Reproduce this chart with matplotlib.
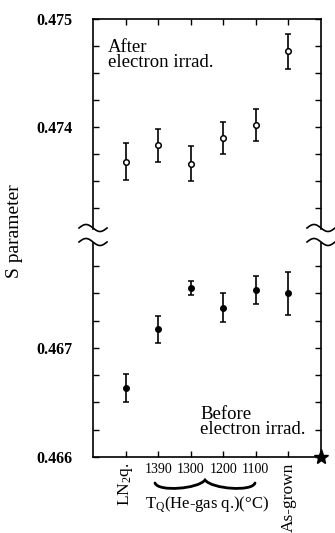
import numpy as np
import matplotlib
matplotlib.use("Agg")
import matplotlib.pyplot as plt
from matplotlib.lines import Line2D
from matplotlib.path import Path
from matplotlib.patches import PathPatch
from matplotlib.ticker import MultipleLocator

plt.rcParams["font.family"] = "serif"
plt.rcParams["font.serif"] = ["Liberation Serif", "DejaVu Serif"]
plt.rcParams["mathtext.fontset"] = "custom"
plt.rcParams["mathtext.rm"] = "Liberation Serif"
plt.rcParams["mathtext.it"] = "Liberation Serif:italic"

# data
positions = [1, 2, 3, 4, 5, 6]
tick_labels = ["LN$_2$q.", "1390", "1300", "1200", "1100", "As-grown"]
s_after = [0.47368, 0.47383, 0.47366, 0.47390, 0.47402, 0.47470]
err_after = [0.00017, 0.00015, 0.00016, 0.00015, 0.00015, 0.00016]
s_before = [0.46663, 0.46717, 0.46755, 0.46737, 0.46753, 0.46750]
err_before = [0.00013, 0.000125, 0.00006, 0.00013, 0.00013, 0.00020]

W, H = 335, 533
fig = plt.figure(figsize=(W / 100, H / 100), dpi=100)


def fxy(px, py):
    return px / W, 1 - py / H


left, right = 93, 321
ax_up = fig.add_axes([left / W, 1 - 229 / H, (right - left) / W, (229 - 19) / H])
ax_lo = fig.add_axes([left / W, 1 - 457 / H, (right - left) / W, (457 - 243) / H])

ax_up.errorbar(positions, s_after, yerr=err_after, fmt="o", ms=4, mfc="white",
               mec="black", mew=1.1, color="black", elinewidth=1.2, capsize=2,
               capthick=1.1)
ax_lo.errorbar(positions, s_before, yerr=err_before, fmt="o", ms=4, mfc="black",
               mec="black", color="black", elinewidth=1.2, capsize=2, capthick=1.1)

for ax in (ax_up, ax_lo):
    ax.set_xlim(0, 7)
    ax.yaxis.set_minor_locator(MultipleLocator(0.00025))
    ax.tick_params(which="both", direction="in", length=4, width=1,
                   left=True, right=True, labelsize=11.5, pad=15)
    for sp in ax.spines.values():
        sp.set_linewidth(1.2)

ax_up.set_ylim(0.473056, 0.475)
ax_up.set_yticks([0.474, 0.475], ["0.474", "0.475"])
ax_up.spines["bottom"].set_visible(False)
ax_up.set_xticks(positions)
ax_up.tick_params(axis="x", bottom=False, top=True, labelbottom=False)

ax_lo.set_ylim(0.466, 0.467963)
ax_lo.set_yticks([0.466, 0.467], ["0.466", "0.467"])
ax_lo.spines["top"].set_visible(False)
ax_lo.set_xticks(positions, tick_labels)
ax_lo.tick_params(axis="x", bottom=True, top=False, pad=4)

for lab in ax_up.get_yticklabels() + ax_lo.get_yticklabels():
    lab.set_fontweight("bold")

xl = ax_lo.get_xticklabels()
for i, lab in enumerate(xl):
    if i in (0, 5):
        lab.set_rotation(90)
        lab.set_fontsize(12.5)
        lab.set_va("top")
    else:
        lab.set_fontsize(10)

ax_up.text(0.46, 0.474815, "After\nelectron irrad.", fontsize=13.5, va="top",
           ha="left", linespacing=0.85)
ax_lo.text(3.285, 0.46647, "Before\nelectron irrad.", fontsize=13.5, va="top",
           ha="left", linespacing=0.85)

fig.text(*fxy(15, 231), "S parameter", rotation=90, fontsize=14,
         ha="center", va="center")
fig.text(*fxy(207, 505), "T$_\\mathrm{Q}$(He-gas q.)(°C)", fontsize=12,
         ha="center", va="center")

# axis break marks
t = np.linspace(0, 1, 40)
for x0 in (79, 307):
    for yc in (228, 242):
        xs = x0 + 28 * t
        ys = yc - 3.5 * np.sin(2 * np.pi * t)
        fx, fy = fxy(xs, ys)
        fig.add_artist(Line2D(fx, fy, color="black", lw=1.2,
                              transform=fig.transFigure))

# brace under the quench temperatures
pts = [(155, 483), (158, 492), (198, 489), (205, 480),
       (212, 489), (252, 492), (255, 483)]
codes = [Path.MOVETO] + [Path.CURVE4] * 6
brace = Path([fxy(*p) for p in pts], codes)
fig.add_artist(PathPatch(brace, fill=False, lw=2, color="black",
                         transform=fig.transFigure, capstyle="round"))

# blot at the lower right corner
ax_lo.plot([1], [0], marker="*", ms=11, color="black", transform=ax_lo.transAxes,
           clip_on=False)

fig.savefig("out.png", dpi=100)
